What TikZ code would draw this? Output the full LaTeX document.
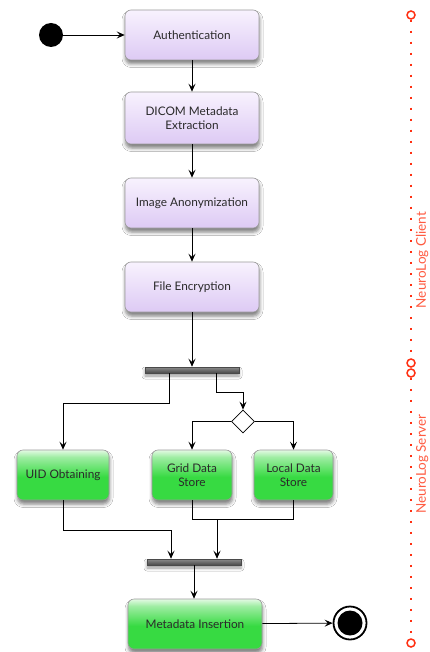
\documentclass[tikz,border=0pt]{standalone}
\usepackage{fontspec}
\setmainfont{Lato}
\usetikzlibrary{arrows.meta,shapes.geometric,shadows.blur}

\definecolor{lavtop}{HTML}{F8F2FE}
\definecolor{lavbot}{HTML}{DDCAF4}
\definecolor{grnlight}{HTML}{E4FAE4}
\definecolor{grnfull}{HTML}{37DA42}
\definecolor{boxline}{HTML}{9A9A9A}
\definecolor{boxtext}{HTML}{2A2A2A}
\definecolor{bartop}{HTML}{8C8C8C}
\definecolor{barbot}{HTML}{4A4A4A}
\definecolor{lanered}{HTML}{FF3012}
\definecolor{lanetext}{HTML}{FF5A40}

% green fill: saturated lower half, pale at the top edge
\pgfdeclareverticalshading{greenfill}{100bp}{%
  color(0bp)=(grnfull); color(25bp)=(grnfull); color(48bp)=(grnfull);
  color(68bp)=(grnlight!60!grnfull); color(75bp)=(grnlight); color(100bp)=(grnlight)}

\tikzset{
  boxshadow/.style={blur shadow={shadow xshift=0.5pt, shadow yshift=-4pt,
      shadow blur radius=3.5pt, shadow opacity=50}},
  action/.style={draw=boxline, line width=0.6pt, rounded corners=6pt,
      align=center, text=boxtext, font=\fontsize{11.8}{14}\selectfont,
      inner sep=2pt, boxshadow},
  lavbox/.style={action, top color=lavtop, bottom color=lavbot},
  grnbox/.style={action, shading=greenfill},
  syncbar/.style={draw=barbot, line width=0.5pt, top color=bartop, bottom color=barbot,
      minimum height=6pt, inner sep=0pt, blur shadow={shadow xshift=0pt,
      shadow yshift=-3pt, shadow blur radius=3pt, shadow opacity=40}},
  decision/.style={diamond, draw=black, line width=0.8pt, fill=white,
      minimum width=23pt, minimum height=23pt, inner sep=0pt},
  flow/.style={draw=black, line width=0.8pt,
      -{Stealth[length=8pt,width=7pt,inset=3.2pt]}},
  link/.style={draw=black, line width=0.8pt},
  lanecirc/.style={circle, draw=lanered, line width=1.5pt, fill=white,
      minimum size=8pt, inner sep=0pt},
  lanedots/.style={draw=lanered, line width=2.4pt, dash pattern=on 2.4pt off 8.6pt},
  lanelabel/.style={rotate=90, anchor=base, text=lanetext,
      font=\fontsize{13.5}{15}\selectfont}
}

\begin{document}
\begin{tikzpicture}[x=1pt,y=-1pt]
\useasboundingbox (0,0) rectangle (429,652);
\fill[white] (0,0) rectangle (429,652);

% client side actions
\node[lavbox, minimum width=134pt, minimum height=50pt] (auth) at (192,35) {Authentication};
\node[lavbox, minimum width=134pt, minimum height=52pt] (dicom) at (192,118) {DICOM Metadata\\Extraction};
\node[lavbox, minimum width=134pt, minimum height=50pt] (anon) at (192,203) {Image Anonymization};
\node[lavbox, minimum width=134pt, minimum height=50pt] (enc) at (192,287) {File Encryption};

% fork, decision and server side actions
\node[syncbar, minimum width=94pt] (fork) at (192,370) {};
\node[decision] (dec) at (243,421.5) {};
\node[grnbox, minimum width=92pt, minimum height=50pt] (uid) at (63,475) {UID Obtaining};
\node[grnbox, minimum width=80pt, minimum height=50pt] (grid) at (192,475) {Grid Data\\Store};
\node[grnbox, minimum width=79pt, minimum height=50pt] (local) at (293.5,475) {Local Data\\Store};
\node[syncbar, minimum width=94pt] (join) at (194,562) {};
\node[grnbox, minimum width=134pt, minimum height=50pt] (meta) at (195,624) {Metadata Insertion};

% initial and final states
\node[circle, fill=black, minimum size=24pt, inner sep=0pt] (start) at (51,35) {};
\node[circle, draw=black, line width=1.8pt, fill=white, minimum size=33pt, inner sep=0pt] (end) at (350,623) {};
\fill[black] (end.center) circle (12.5);

% control flow
\draw[flow] (start) -- (auth);
\draw[flow] (auth) -- (dicom);
\draw[flow] (dicom) -- (anon);
\draw[flow] (anon) -- (enc);
\draw[flow] (enc.south) -- (fork.north);
\draw[flow] ([xshift=-23pt]fork.south) -- ++(0,30) -| (uid.north);
\draw[flow] ([xshift=24pt]fork.south) -- ++(0,19) -| (dec.north);
\draw[flow] (dec.west) -| (grid.north);
\draw[flow] (dec.east) -| (local.north);
\draw[flow] (uid.south) -- ++(0,30) -| ([xshift=-23pt]join.north);
\coordinate (merge) at (217,519);
\draw[link] (grid.south) -- ++(0,19) -| (local.south);
\draw[flow] (merge) -- (merge |- join.north);
\draw[flow] (join.south) -- (join.south |- meta.north);
\draw[flow] (meta) -- (end);

% swimlane markers
\node[lanecirc] (c1) at (411,15) {};
\node[lanecirc] (c2) at (411,363) {};
\node[lanecirc] (c3) at (411,373) {};
\node[lanecirc] (c4) at (411,643) {};
\draw[lanedots] (c1.south) -- (c2.north);
\draw[lanedots] (c3.south) -- (c4.north);
\node[lanelabel] (clientlbl) at (425.8,260) {NeuroLog Client};
\node[lanelabel] (serverlbl) at (425.8,464) {NeuroLog Server};
\end{tikzpicture}
\end{document}
